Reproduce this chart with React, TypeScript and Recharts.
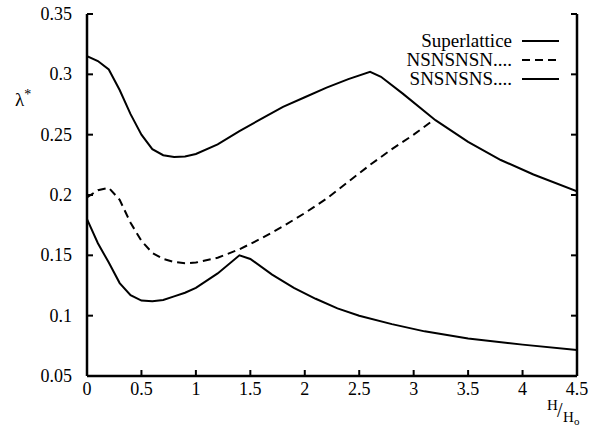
import React from 'react';
import { LineChart, Line, XAxis, YAxis, Legend, Label } from 'recharts';

// H/Ho sample points and lambda* values
const superH = [0, 0.1, 0.2, 0.3, 0.4, 0.5, 0.6, 0.7, 0.8, 0.9, 1.0, 1.2, 1.4, 1.6, 1.8, 2.0, 2.2, 2.4, 2.6, 2.7, 2.9, 3.2, 3.5, 3.8, 4.1, 4.5];
const superLambda = [0.315, 0.311, 0.304, 0.287, 0.267, 0.25, 0.238, 0.233, 0.2315, 0.232, 0.234, 0.242, 0.253, 0.263, 0.273, 0.281, 0.289, 0.296, 0.302, 0.298, 0.284, 0.262, 0.244, 0.229, 0.217, 0.203];

const nsH = [0, 0.1, 0.2, 0.3, 0.4, 0.5, 0.6, 0.7, 0.8, 0.9, 1.0, 1.2, 1.4, 1.6, 1.8, 2.0, 2.2, 2.4, 2.6, 2.8, 3.0, 3.18];
const nsLambda = [0.198, 0.204, 0.206, 0.196, 0.177, 0.162, 0.152, 0.147, 0.1445, 0.1435, 0.144, 0.148, 0.155, 0.164, 0.174, 0.185, 0.197, 0.211, 0.225, 0.238, 0.25, 0.262];

const snH = [0, 0.1, 0.2, 0.3, 0.4, 0.5, 0.6, 0.7, 0.8, 0.9, 1.0, 1.2, 1.4, 1.5, 1.7, 1.9, 2.1, 2.3, 2.5, 2.8, 3.1, 3.5, 4.0, 4.5];
const snLambda = [0.18, 0.16, 0.144, 0.127, 0.117, 0.1125, 0.112, 0.113, 0.116, 0.119, 0.123, 0.135, 0.15, 0.147, 0.134, 0.123, 0.114, 0.106, 0.1, 0.093, 0.087, 0.081, 0.076, 0.0715];

const xTicks = [0, 0.5, 1, 1.5, 2, 2.5, 3, 3.5, 4, 4.5];
const yTicks = [0.05, 0.1, 0.15, 0.2, 0.25, 0.3, 0.35];

const FONT = 'Liberation Serif';
const INK = '#000';
const TICK = 6;

const zip = (h: number[], v: number[]) => h.map((x, i) => ({ h: x, lambda: v[i] }));

const SERIES = [
  { name: 'Superlattice', data: zip(superH, superLambda), dash: undefined as string | undefined },
  { name: 'NSNSNSN....', data: zip(nsH, nsLambda), dash: '8 5' },
  { name: 'SNSNSNS....', data: zip(snH, snLambda), dash: undefined as string | undefined },
];

const axisLine = { stroke: INK, strokeWidth: 2.5 };

// ticks point inward; labels only on bottom/left
const BottomTick = (p: any) => (
  <g>
    <line x1={p.x} x2={p.x} y1={p.y} y2={p.y - TICK} stroke={INK} strokeWidth={2} />
    <text x={p.x} y={p.y + 19} textAnchor="middle" fontSize={18} fill={INK} fontFamily={FONT}>
      {p.payload.value}
    </text>
  </g>
);
const TopTick = (p: any) => (
  <line x1={p.x} x2={p.x} y1={p.y} y2={p.y + TICK} stroke={INK} strokeWidth={2} />
);
const LeftTick = (p: any) => (
  <g>
    <line x1={p.x} x2={p.x + TICK} y1={p.y} y2={p.y} stroke={INK} strokeWidth={2} />
    <text x={p.x - 15} y={p.y + 6} textAnchor="end" fontSize={18} fill={INK} fontFamily={FONT}>
      {p.payload.value}
    </text>
  </g>
);
const RightTick = (p: any) => (
  <line x1={p.x} x2={p.x - TICK} y1={p.y} y2={p.y} stroke={INK} strokeWidth={2} />
);

const renderLegend = () => (
  <div style={{ fontFamily: FONT, fontSize: 19, lineHeight: '19px', color: INK }}>
    {SERIES.map((s) => (
      <div
        key={s.name}
        style={{ display: 'flex', justifyContent: 'flex-end', alignItems: 'center', height: 19 }}
      >
        <span>{s.name}</span>
        <svg width={48} height={19}>
          <line x1={10} x2={47} y1={10} y2={10} stroke={INK} strokeWidth={2} strokeDasharray={s.dash} />
        </svg>
      </div>
    ))}
  </div>
);

const YLabel = (props: any) => {
  const vb = props.viewBox;
  return (
    <text x={vb.x + 15} y={vb.y + 92} fontFamily={FONT} fontSize={19} fill={INK}>
      λ<tspan dy={-7} fontSize={14}>*</tspan>
    </text>
  );
};

const XLabel = (props: any) => {
  const vb = props.viewBox;
  const x = vb.x + vb.width - 30;
  const y = vb.y;
  return (
    <text fontFamily={FONT} fill={INK}>
      <tspan x={x} y={y + 34} fontSize={15}>H</tspan>
      <tspan x={x + 10} y={y + 41} fontSize={20}>/</tspan>
      <tspan x={x + 16} y={y + 46} fontSize={15}>H</tspan>
      <tspan x={x + 27} y={y + 49} fontSize={11}>o</tspan>
    </text>
  );
};

export default function App() {
  return (
    <div style={{ position: 'absolute', left: 0, top: 0, background: '#fff' }}>
      <LineChart width={601} height={438} margin={{ top: 14, right: 0, bottom: 0, left: 0 }}>
        <XAxis
          dataKey="h"
          type="number"
          domain={[0, 4.5]}
          ticks={xTicks}
          allowDataOverflow
          height={62}
          tickSize={0}
          tickMargin={0}
          tick={<BottomTick />}
          tickLine={false}
          axisLine={axisLine}
        >
          <Label content={<XLabel />} />
        </XAxis>
        <XAxis
          xAxisId="top"
          dataKey="h"
          orientation="top"
          type="number"
          domain={[0, 4.5]}
          ticks={xTicks}
          allowDataOverflow
          height={0}
          tickSize={0}
          tickMargin={0}
          tick={<TopTick />}
          tickLine={false}
          axisLine={axisLine}
        />
        <YAxis
          type="number"
          domain={[0.05, 0.35]}
          ticks={yTicks}
          allowDataOverflow
          width={87}
          tickSize={0}
          tickMargin={0}
          tick={<LeftTick />}
          tickLine={false}
          axisLine={axisLine}
        >
          <Label content={<YLabel />} />
        </YAxis>
        <YAxis
          yAxisId="right"
          orientation="right"
          type="number"
          domain={[0.05, 0.35]}
          ticks={yTicks}
          allowDataOverflow
          width={24}
          tickSize={0}
          tickMargin={0}
          tick={<RightTick />}
          tickLine={false}
          axisLine={axisLine}
        />
        <Legend
          layout="vertical"
          align="center"
          verticalAlign="middle"
          content={renderLegend}
          wrapperStyle={{ top: 31, left: 370, width: 190, height: 60 }}
        />
        {SERIES.map((s) => (
          <Line
            key={s.name}
            data={s.data}
            dataKey="lambda"
            name={s.name}
            type="linear"
            stroke={INK}
            strokeWidth={2}
            strokeDasharray={s.dash}
            dot={false}
            activeDot={false}
            isAnimationActive={false}
          />
        ))}
        {/* invisible copy so the mirrored top/right axes get ticks */}
        <Line
          data={SERIES[0].data}
          dataKey="lambda"
          xAxisId="top"
          yAxisId="right"
          stroke="none"
          dot={false}
          activeDot={false}
          legendType="none"
          isAnimationActive={false}
        />
      </LineChart>
    </div>
  );
}
